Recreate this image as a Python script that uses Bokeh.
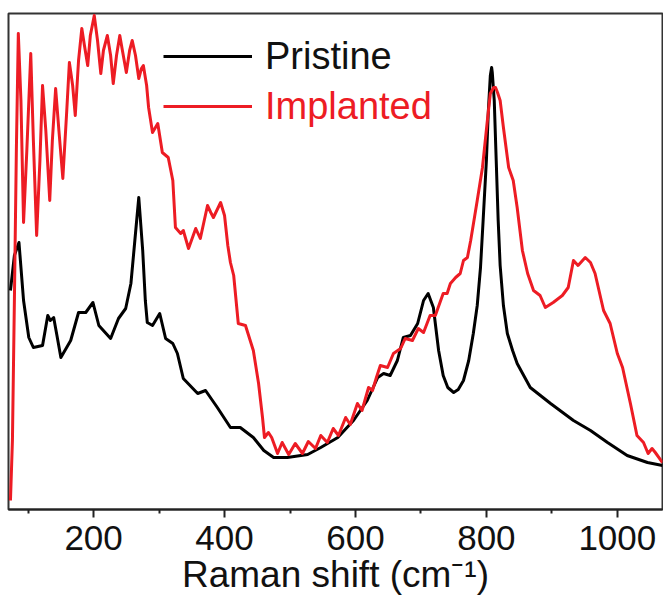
from bokeh.plotting import figure
from bokeh.models import Legend, LegendItem, FixedTicker, Range1d
from bokeh.embed import file_html
from bokeh.resources import INLINE

# Raman shift (cm^-1) and intensity (a.u.)
pristine_x = [73, 79, 86, 93, 101, 108, 122, 130, 134, 139,
              144, 150, 165, 177, 188, 199, 208, 226, 238, 249,
              257, 263, 269, 275, 279, 282, 290, 301, 310, 321,
              328, 337, 359, 371, 389, 409, 424, 444, 460, 475,
              496, 527, 547, 573, 597, 618, 634, 643, 653, 664,
              673, 684, 695, 704, 711, 719, 727, 734, 741, 750,
              757, 765, 773, 780, 786, 791, 795, 800, 803, 806,
              808, 809, 812, 815, 818, 821, 826, 832, 840, 847,
              867, 898, 933, 959, 985, 1015, 1046, 1069]
pristine_y = [218, 253, 266, 208, 171, 161, 163, 193, 188, 191,
              173, 151, 168, 196, 196, 206, 183, 170, 190, 200,
              225, 268, 311, 258, 208, 186, 183, 195, 170, 165,
              155, 130, 115, 118, 101, 81, 81, 71, 58, 51,
              51, 54, 61, 71, 88, 108, 131, 135, 133, 148,
              171, 173, 185, 208, 215, 201, 158, 133, 121, 116,
              119, 128, 148, 175, 203, 241, 288, 348, 398, 433,
              441, 436, 408, 348, 288, 243, 203, 175, 158, 145,
              121, 105, 88, 78, 66, 53, 46, 43]

implanted_x = [73, 76, 79, 82, 85, 89, 93, 98, 104, 108,
               113, 118, 122, 127, 133, 137, 142, 147, 153, 159,
               163, 168, 172, 177, 182, 186, 191, 195, 201, 206,
               211, 215, 221, 226, 230, 235, 240, 244, 250, 255,
               259, 264, 269, 273, 276, 281, 284, 290, 298, 305,
               314, 321, 325, 333, 337, 345, 356, 363, 374, 379,
               383, 394, 400, 405, 409, 414, 421, 432, 444, 452,
               458, 461, 467, 472, 481, 488, 498, 508, 519, 528,
               539, 547, 557, 566, 574, 585, 592, 603, 610, 620,
               626, 632, 638, 649, 658, 669, 676, 687, 696, 704,
               714, 722, 734, 740, 745, 753, 760, 765, 771, 776,
               786, 794, 801, 806, 811, 814, 817, 821, 826, 834,
               841, 847, 855, 863, 872, 882, 890, 902, 916, 925,
               933, 940, 951, 959, 966, 979, 989, 1000, 1008, 1020,
               1030, 1040, 1047, 1053, 1058, 1069]
implanted_y = [8, 68, 208, 358, 475, 408, 286, 358, 455, 368,
               273, 348, 423, 378, 308, 368, 420, 378, 330, 398,
               446, 423, 393, 448, 480, 463, 443, 473, 493, 468,
               435, 458, 473, 453, 425, 453, 473, 458, 436, 458,
               468, 453, 430, 440, 443, 423, 401, 376, 385, 356,
               351, 328, 281, 275, 278, 260, 280, 270, 303, 296,
               291, 306, 293, 263, 246, 233, 185, 183, 158, 125,
               91, 71, 76, 71, 55, 66, 54, 65, 55, 67,
               60, 73, 66, 80, 73, 91, 84, 105, 98, 121,
               118, 131, 143, 141, 155, 160, 170, 168, 180, 176,
               193, 193, 215, 215, 225, 231, 235, 248, 251, 268,
               308, 341, 385, 415, 421, 421, 416, 408, 381, 341,
               328, 301, 258, 235, 218, 213, 201, 206, 213, 221,
               248, 243, 251, 246, 235, 198, 185, 155, 141, 105,
               73, 66, 55, 60, 56, 46]

major_ticks = [200, 400, 600, 800, 1000]
minor_ticks = [100, 300, 500, 700, 900]
series_labels = ["Pristine", "Implanted"]
x_label = "Raman shift (cm\u207b\u00b9)"

RED = "#ED1C24"
FONT = "Liberation Sans"

p = figure(frame_width=654, frame_height=496, output_backend="svg",
           toolbar_location=None, x_range=Range1d(70, 1069), y_range=Range1d(-1, 495),
           min_border_left=8, min_border_top=13, min_border_right=1, min_border_bottom=99)

r1 = p.line(pristine_x, pristine_y, line_color="black", line_width=3, line_join="round")
r2 = p.line(implanted_x, implanted_y, line_color=RED, line_width=3, line_join="round")

p.xgrid.visible = False
p.ygrid.visible = False
p.yaxis.visible = False
p.outline_line_color = "#333333"
p.outline_line_width = 2
p.background_fill_color = "white"
p.border_fill_color = "white"

ax = p.xaxis[0]
ax.ticker = FixedTicker(ticks=major_ticks, minor_ticks=minor_ticks)
ax.axis_line_color = "#222222"
ax.axis_line_width = 2
ax.major_tick_line_color = "#222222"
ax.major_tick_line_width = 2
ax.major_tick_out = 8
ax.major_tick_in = 0
ax.minor_tick_line_color = "#222222"
ax.minor_tick_line_width = 2
ax.minor_tick_out = 4
ax.minor_tick_in = 0
ax.major_label_text_font = FONT
ax.major_label_text_font_size = "35px"
ax.major_label_text_color = "#111111"
ax.major_label_standoff = 8
ax.axis_label = x_label
ax.axis_label_text_font = FONT
ax.axis_label_text_font_size = "37px"
ax.axis_label_text_font_style = "normal"
ax.axis_label_text_color = "#111111"
ax.axis_label_standoff = 1

def make_legend(label, renderer, color, loc):
    lg = Legend(items=[LegendItem(label=label, renderers=[renderer])], location=loc,
                orientation="vertical")
    lg.label_text_font = FONT
    lg.label_text_font_size = "38px"
    lg.label_text_color = color
    lg.glyph_width = 89
    lg.glyph_height = 50
    lg.label_height = 50
    lg.label_standoff = 13
    lg.padding = 0
    lg.margin = 0
    lg.spacing = 0
    lg.border_line_color = None
    lg.background_fill_alpha = 0
    return lg

p.add_layout(make_legend(series_labels[0], r1, "#111111", (155, 428)), "center")
p.add_layout(make_legend(series_labels[1], r2, RED, (155, 378)), "center")

open("out.html", "w").write(file_html(p, INLINE))
